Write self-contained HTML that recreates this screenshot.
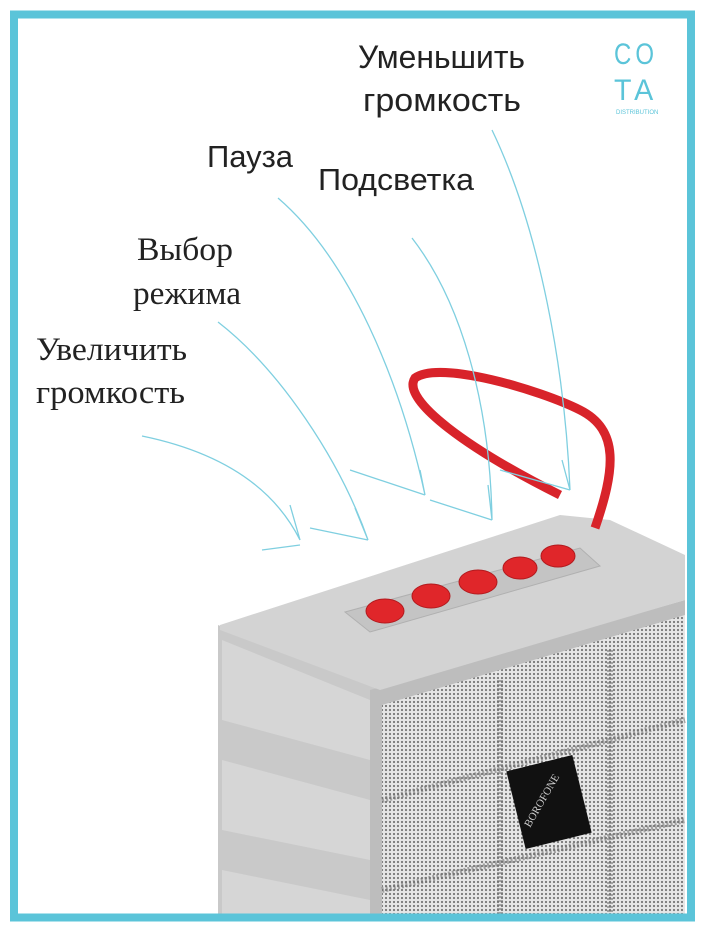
<!DOCTYPE html>
<html><head><meta charset="utf-8"><style>
html,body{margin:0;padding:0;background:#fff;width:705px;height:933px;overflow:hidden}
svg{display:block}
text{font-family:"Liberation Sans",sans-serif;fill:#222}
.s{font-family:"Liberation Serif",serif}
</style></head><body>
<svg width="705" height="933" viewBox="0 0 705 933">
<defs>
<pattern id="d" width="4" height="4" patternUnits="userSpaceOnUse"><rect width="4" height="4" fill="#e6e6e6"/><circle cx="2" cy="2" r="1.1" fill="#777"/></pattern>
</defs>
<polygon points="218,625 380,690 380,915 218,915" fill="#c9c9c9"/>
<polygon points="222,640 370,700 370,760 222,720" fill="#d6d6d6"/>
<polygon points="222,760 370,800 370,860 222,830" fill="#d6d6d6"/>
<polygon points="222,870 370,900 370,915 222,915" fill="#d6d6d6"/>
<polygon points="370,690 685,600 685,915 370,915" fill="#bdbdbd"/>
<polygon points="382,705 685,615 685,915 382,915" fill="url(#d)"/>
<g stroke="#6a6a6a" stroke-width="6" fill="none" opacity=".55" stroke-dasharray="2 2">
<path d="M382,800 L685,720"/><path d="M382,890 L685,820"/>
<path d="M500,680 L500,915"/><path d="M610,650 L610,915"/>
</g>
<rect x="515" y="762" width="68" height="80" fill="#111" transform="rotate(-14 549 802)"/>
<text x="0" y="0" font-size="11" style="fill:#ccc" transform="translate(530 828) rotate(-60)" class="s">BOROFONE</text>
<polygon points="220,625 560,515 610,520 685,555 685,600 380,690 220,630" fill="#d3d3d3"/>
<polygon points="345,612 580,548 600,566 370,632" fill="#c4c4c4" stroke="#b0b0b0"/>
<g fill="#e0262a" stroke="#b21a1e">
<ellipse cx="385" cy="611" rx="19" ry="12"/>
<ellipse cx="431" cy="596" rx="19" ry="12"/>
<ellipse cx="478" cy="582" rx="19" ry="12"/>
<ellipse cx="520" cy="568" rx="17" ry="11"/>
<ellipse cx="558" cy="556" rx="17" ry="11"/>
</g>
<path d="M595,528 C615,470 620,430 580,410 C540,390 440,360 415,378 C400,400 470,450 560,495" stroke="#d8232a" stroke-width="9" fill="none"/>
<g stroke="#7fcfe0" stroke-width="1.3" fill="none">
<path d="M142,436 C210,450 270,480 300,540 L290,505 M300,545 L262,550"/>
<path d="M218,322 C280,370 340,460 368,540 L355,508 M368,540 L310,528"/>
<path d="M278,198 C350,260 400,380 425,495 L420,470 M425,495 L350,470"/>
<path d="M412,238 C460,300 490,400 492,520 L488,485 M492,520 L430,500"/>
<path d="M492,130 C540,230 565,370 570,490 L562,460 M570,490 L500,470"/>
</g>
<text x="358" y="68" font-size="32" textLength="167" lengthAdjust="spacingAndGlyphs">Уменьшить</text>
<text x="363" y="111" font-size="32" textLength="158" lengthAdjust="spacingAndGlyphs">громкость</text>
<text x="207" y="167" font-size="31" textLength="86" lengthAdjust="spacingAndGlyphs">Пауза</text>
<text x="318" y="190" font-size="31" textLength="156" lengthAdjust="spacingAndGlyphs">Подсветка</text>
<text x="137" y="260" font-size="33" class="s" textLength="96" lengthAdjust="spacingAndGlyphs">Выбор</text>
<text x="133" y="304" font-size="33" class="s" textLength="108" lengthAdjust="spacingAndGlyphs">режима</text>
<text x="36" y="360" font-size="33" class="s" textLength="151" lengthAdjust="spacingAndGlyphs">Увеличить</text>
<text x="36" y="403" font-size="33" class="s" textLength="149" lengthAdjust="spacingAndGlyphs">громкость</text>
<text x="614" y="64" font-size="30" style="fill:#5bc4d9;letter-spacing:5px" textLength="44" lengthAdjust="spacingAndGlyphs">CO</text>
<text x="614" y="100" font-size="30" style="fill:#5bc4d9;letter-spacing:5px" textLength="44" lengthAdjust="spacingAndGlyphs">TA</text>
<text x="616" y="114" font-size="6" style="fill:#5bc4d9">DISTRIBUTION</text>
<rect x="14" y="14.5" width="677" height="903" fill="none" stroke="#5bc4d9" stroke-width="8"/>
<rect x="695" y="0" width="10" height="933" fill="#fff"/>
<rect x="0" y="922" width="705" height="11" fill="#fff"/>
</svg>
</body></html>
